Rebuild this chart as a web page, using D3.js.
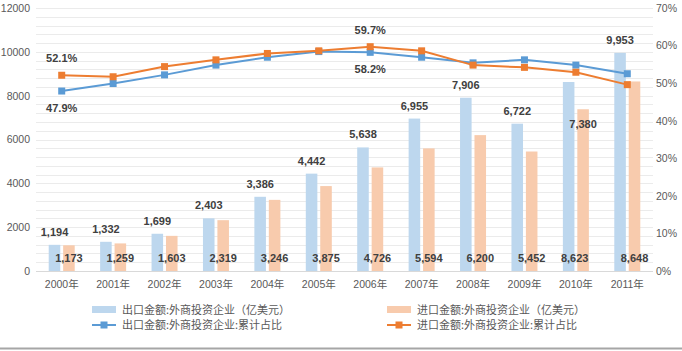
<!DOCTYPE html>
<html>
<head>
<meta charset="utf-8">
<script src="https://cdn.jsdelivr.net/npm/d3@7"></script>
<style>
  body { margin: 0; background: #fff; }
  svg text { font-family: "Liberation Sans", "Noto Sans CJK SC", sans-serif; }
</style>
</head>
<body>
<div id="chart"></div>
<script>
var width = 682, height = 351;

// data
var years = ["2000年", "2001年", "2002年", "2003年", "2004年", "2005年", "2006年", "2007年", "2008年", "2009年", "2010年", "2011年"];
var exportAmt = [1194, 1332, 1699, 2403, 3386, 4442, 5638, 6955, 7906, 6722, 8623, 9953];
var importAmt = [1173, 1259, 1603, 2319, 3246, 3875, 4726, 5594, 6200, 5452, 7380, 8648];
var exportShare = [47.9, 49.9, 52.2, 54.8, 56.9, 58.4, 58.2, 56.9, 55.4, 56.2, 54.8, 52.5];
var importShare = [52.1, 51.7, 54.4, 56.2, 57.9, 58.6, 59.7, 58.6, 54.8, 54.2, 52.9, 49.6];
var leftTicks = [0, 2000, 4000, 6000, 8000, 10000, 12000];
var rightTicks = [0, 10, 20, 30, 40, 50, 60, 70];
var legendNames = ["出口金额:外商投资企业（亿美元）", "进口金额:外商投资企业（亿美元）",
                   "出口金额:外商投资企业:累计占比", "进口金额:外商投资企业:累计占比"];

var blueBar = "#bdd7ee", orangeBar = "#f8cbad";
var blueLine = "#5b9bd5", orangeLine = "#ed7d31";
var labelColor = "#404040", axisColor = "#595959";

var svg = d3.select("#chart")
      .append("svg")
      .attr("width", width)
      .attr("height", height);

var plotTop = 8, plotBottom = 271, plotLeft = 36, plotRight = 653;

var x = d3.scaleBand()
      .domain(years)
      .range([plotLeft, plotRight]);

var x1 = d3.scaleBand()
      .domain(["exp", "imp"])
      .range([x.bandwidth() / 2 - 13, x.bandwidth() / 2 + 13])
      .paddingInner(0.2);

var y = d3.scaleLinear()
      .domain([0, 12000])
      .range([plotBottom, plotTop]);

var y2 = d3.scaleLinear()
      .domain([0, 70])
      .range([plotBottom, plotTop]);

// gridlines (major + minor)
svg.append("g")
      .selectAll("line")
      .data(d3.range(400, 12001, 400))
      .join("line")
      .attr("x1", plotLeft)
      .attr("x2", plotRight)
      .attr("y1", d => Math.round(y(d)) + 0.5)
      .attr("y2", d => Math.round(y(d)) + 0.5)
      .attr("stroke", "#ebebeb");

// x axis line
svg.append("line")
      .attr("x1", plotLeft).attr("x2", plotRight)
      .attr("y1", plotBottom + 0.5).attr("y2", plotBottom + 0.5)
      .attr("stroke", "#d9d9d9");

// left axis
var yAxis = svg.append("g")
      .attr("transform", "translate(30,0)")
      .call(d3.axisLeft(y).tickValues(leftTicks).tickSize(0).tickPadding(0).tickFormat(d3.format("d")));
yAxis.select(".domain").remove();
yAxis.selectAll("text").attr("fill", axisColor).style("font-size", "10.5px");

// right axis
var y2Axis = svg.append("g")
      .attr("transform", "translate(656,0)")
      .call(d3.axisRight(y2).tickValues(rightTicks).tickSize(0).tickPadding(0).tickFormat(d => d + "%"));
y2Axis.select(".domain").remove();
y2Axis.selectAll("text").attr("fill", axisColor).style("font-size", "10.5px");

// bottom axis
var xAxis = svg.append("g")
      .attr("transform", `translate(0,${plotBottom})`)
      .call(d3.axisBottom(x).tickSize(0).tickPadding(10));
xAxis.select(".domain").remove();
xAxis.selectAll("text").attr("fill", axisColor).style("font-size", "10.5px");

// bars
var groups = svg.append("g")
      .selectAll("g")
      .data(years)
      .join("g")
      .attr("transform", d => `translate(${x(d)},0)`);

groups.append("rect")
      .attr("x", x1("exp"))
      .attr("width", x1.bandwidth())
      .attr("y", (d, i) => y(exportAmt[i]))
      .attr("height", (d, i) => plotBottom - y(exportAmt[i]))
      .attr("fill", blueBar);

groups.append("rect")
      .attr("x", x1("imp"))
      .attr("width", x1.bandwidth())
      .attr("y", (d, i) => y(importAmt[i]))
      .attr("height", (d, i) => plotBottom - y(importAmt[i]))
      .attr("fill", orangeBar);

// bar labels
var fmt = d3.format(",");
groups.append("text")
      .attr("x", (d, i) => i == 10 ? x1("exp") + x1.bandwidth() / 2 + 6 : x1("exp") + x1.bandwidth() / 2)
      .attr("y", (d, i) => i == 10 ? plotBottom - 9 : y(exportAmt[i]) - 9)
      .attr("text-anchor", "middle")
      .attr("fill", labelColor)
      .style("font-size", "11px")
      .style("font-weight", "bold")
      .text((d, i) => fmt(exportAmt[i]));

groups.append("text")
      .attr("x", x1("imp") + x1.bandwidth() / 2)
      .attr("y", (d, i) => i == 10 ? y(importAmt[i]) + 19 : plotBottom - 9)
      .attr("text-anchor", "middle")
      .attr("fill", labelColor)
      .style("font-size", "11px")
      .style("font-weight", "bold")
      .text((d, i) => fmt(importAmt[i]));

// lines
function drawLine(values, color) {
      var cx = (d, i) => x(years[i]) + x.bandwidth() / 2;
      svg.append("path")
            .datum(values)
            .attr("fill", "none")
            .attr("stroke", color)
            .attr("stroke-width", 2)
            .attr("d", d3.line().x(cx).y(d => y2(d)));
      svg.append("g")
            .selectAll("rect")
            .data(values)
            .join("rect")
            .attr("x", (d, i) => cx(d, i) - 3.5)
            .attr("y", d => y2(d) - 3.5)
            .attr("width", 7)
            .attr("height", 7)
            .attr("fill", color);
}
drawLine(exportShare, blueLine);
drawLine(importShare, orangeLine);

// share labels (only 2000 and 2006)
[0, 6].forEach(function (i) {
      var cx = x(years[i]) + x.bandwidth() / 2;
      svg.append("text")
            .attr("x", cx)
            .attr("y", y2(importShare[i]) - 13)
            .attr("text-anchor", "middle")
            .attr("fill", labelColor)
            .style("font-size", "11px")
            .style("font-weight", "bold")
            .text(importShare[i].toFixed(1) + "%");
      svg.append("text")
            .attr("x", cx)
            .attr("y", y2(exportShare[i]) + 21)
            .attr("text-anchor", "middle")
            .attr("fill", labelColor)
            .style("font-size", "11px")
            .style("font-weight", "bold")
            .text(exportShare[i].toFixed(1) + "%");
});

// legend
var legendPos = [[92, 310], [387, 310], [92, 325], [387, 325]];
var legendColors = [blueBar, orangeBar, blueLine, orangeLine];
legendNames.forEach(function (name, i) {
      var p = legendPos[i];
      if (i < 2) {
            svg.append("rect")
                  .attr("x", p[0]).attr("y", p[1] - 4)
                  .attr("width", 24).attr("height", 7)
                  .attr("fill", legendColors[i]);
      } else {
            svg.append("line")
                  .attr("x1", p[0]).attr("x2", p[0] + 24)
                  .attr("y1", p[1]).attr("y2", p[1])
                  .attr("stroke", legendColors[i])
                  .attr("stroke-width", 2);
            svg.append("rect")
                  .attr("x", p[0] + 8.5).attr("y", p[1] - 3.5)
                  .attr("width", 7).attr("height", 7)
                  .attr("fill", legendColors[i]);
      }
      svg.append("text")
            .attr("x", p[0] + 30)
            .attr("y", p[1] + 4)
            .attr("fill", axisColor)
            .style("font-size", "11px")
            .style("font-family", "'Noto Sans CJK SC'")
            .text(name);
});

// bottom frame line
svg.append("line")
      .attr("x1", 0).attr("x2", width)
      .attr("y1", 348.5).attr("y2", 348.5)
      .attr("stroke", "#a6a6a6")
      .attr("stroke-width", 2);
</script>
</body>
</html>
